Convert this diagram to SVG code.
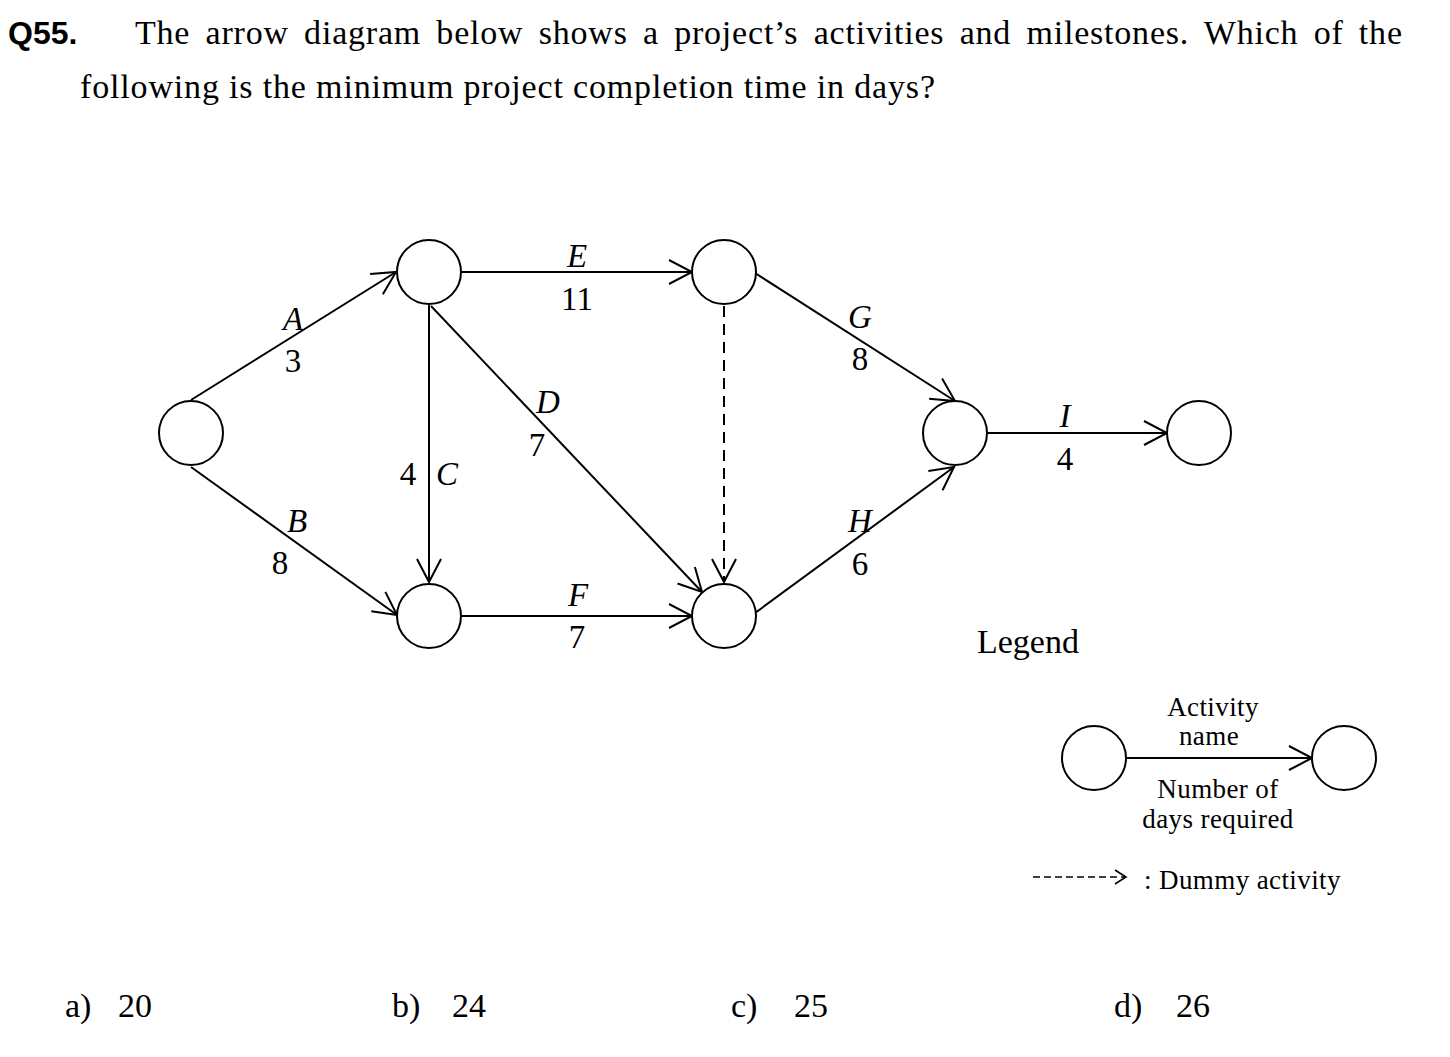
<svg xmlns="http://www.w3.org/2000/svg" width="1450" height="1057" viewBox="0 0 1450 1057">
<style>
.t{font-family:"Liberation Serif","Times New Roman",serif;fill:#000}
.h{font-size:34px}
.lbl{font-size:33px;text-anchor:middle}
.it{font-style:italic}
.lg{font-size:27px;letter-spacing:0.4px}
.node{fill:#fff;stroke:#000;stroke-width:2}
.e{stroke:#000;stroke-width:2;fill:none;marker-end:url(#ah)}
.d{stroke-dasharray:11 7}
</style>
<defs>
<marker id="ah" markerUnits="userSpaceOnUse" markerWidth="28" markerHeight="28" viewBox="0 0 28 28" refX="25" refY="14" orient="auto">
<path d="M2,2 L25,14 L2,26" fill="none" stroke="#000" stroke-width="2"/>
</marker>
<marker id="ahs" markerUnits="userSpaceOnUse" markerWidth="16" markerHeight="20" viewBox="0 0 16 20" refX="13" refY="10" orient="auto">
<path d="M2,3 L13,10 L2,17" fill="none" stroke="#000" stroke-width="1.6"/>
</marker>
</defs>
<rect width="1450" height="1057" fill="#fff"/>
<g id="question">
<text x="8" y="44" font-family="'Liberation Sans',Arial,sans-serif" font-weight="bold" font-size="32">Q55.</text>
<text class="t h" x="135" y="44" textLength="1267" lengthAdjust="spacing" word-spacing="6">The arrow diagram below shows a project’s activities and milestones. Which of the</text>
<text class="t h" x="80" y="98" textLength="855" lengthAdjust="spacing">following is the minimum project completion time in days?</text>
</g>
<g id="connectors">
<line id="A" class="e" x1="191" y1="400" x2="396" y2="272"/>
<line id="B" class="e" x1="191" y1="467" x2="397" y2="615"/>
<line id="C" class="e" x1="429" y1="305" x2="429" y2="582"/>
<line id="D" class="e" x1="431" y1="306" x2="702" y2="592"/>
<line id="E" class="e" x1="462" y1="272" x2="692" y2="272"/>
<line id="F" class="e" x1="462" y1="616" x2="692" y2="616"/>
<line id="dummy" class="e d" x1="724" y1="306" x2="724" y2="582"/>
<line id="G" class="e" x1="755" y1="273" x2="955" y2="401"/>
<line id="H" class="e" x1="755" y1="613" x2="954" y2="467"/>
<line id="I" class="e" x1="987" y1="433" x2="1167" y2="433"/>
<line id="legend-arrow" class="e" x1="1126" y1="758" x2="1312" y2="758"/>
<line id="legend-dummy" x1="1033" y1="877" x2="1126" y2="877" stroke="#000" stroke-width="1.6" stroke-dasharray="7 4" marker-end="url(#ahs)"/>
</g>
<g id="n1"><circle class="node" cx="191" cy="433" r="32"/></g>
<g id="n2"><circle class="node" cx="429" cy="272" r="32"/></g>
<g id="n3"><circle class="node" cx="429" cy="616" r="32"/></g>
<g id="n4"><circle class="node" cx="724" cy="272" r="32"/></g>
<g id="n5"><circle class="node" cx="724" cy="616" r="32"/></g>
<g id="n6"><circle class="node" cx="955" cy="433" r="32"/></g>
<g id="n7"><circle class="node" cx="1199" cy="433" r="32"/></g>
<g id="legend-n1"><circle class="node" cx="1094" cy="758" r="32"/></g>
<g id="legend-n2"><circle class="node" cx="1344" cy="758" r="32"/></g>
<g id="labels">
<text class="t lbl it" x="293" y="330">A</text>
<text class="t lbl" x="293" y="372">3</text>
<text class="t lbl it" x="297" y="532">B</text>
<text class="t lbl" x="280" y="574">8</text>
<text class="t lbl" x="408" y="485">4</text>
<text class="t lbl it" x="447" y="485">C</text>
<text class="t lbl it" x="577" y="267">E</text>
<text class="t lbl" x="577" y="310">11</text>
<text class="t lbl it" x="548" y="413">D</text>
<text class="t lbl" x="537" y="456">7</text>
<text class="t lbl it" x="578" y="606">F</text>
<text class="t lbl" x="577" y="648">7</text>
<text class="t lbl it" x="860" y="328">G</text>
<text class="t lbl" x="860" y="370">8</text>
<text class="t lbl it" x="860" y="532">H</text>
<text class="t lbl" x="860" y="575">6</text>
<text class="t lbl it" x="1065" y="427">I</text>
<text class="t lbl" x="1065" y="470">4</text>
</g>
<g id="legend">
<text class="t h" x="977" y="653">Legend</text>
<text class="t lg" x="1213" y="716" text-anchor="middle">Activity</text>
<text class="t lg" x="1209" y="745" text-anchor="middle">name</text>
<text class="t lg" x="1218" y="798" text-anchor="middle">Number of</text>
<text class="t lg" x="1218" y="828" text-anchor="middle">days required</text>
<text class="t lg" x="1144" y="889">: Dummy activity</text>
</g>
<g id="answers">
<text class="t h" y="1017"><tspan x="65">a)</tspan><tspan x="118">20</tspan></text>
<text class="t h" y="1017"><tspan x="392">b)</tspan><tspan x="452">24</tspan></text>
<text class="t h" y="1017"><tspan x="731">c)</tspan><tspan x="794">25</tspan></text>
<text class="t h" y="1017"><tspan x="1114">d)</tspan><tspan x="1176">26</tspan></text>
</g>
</svg>
